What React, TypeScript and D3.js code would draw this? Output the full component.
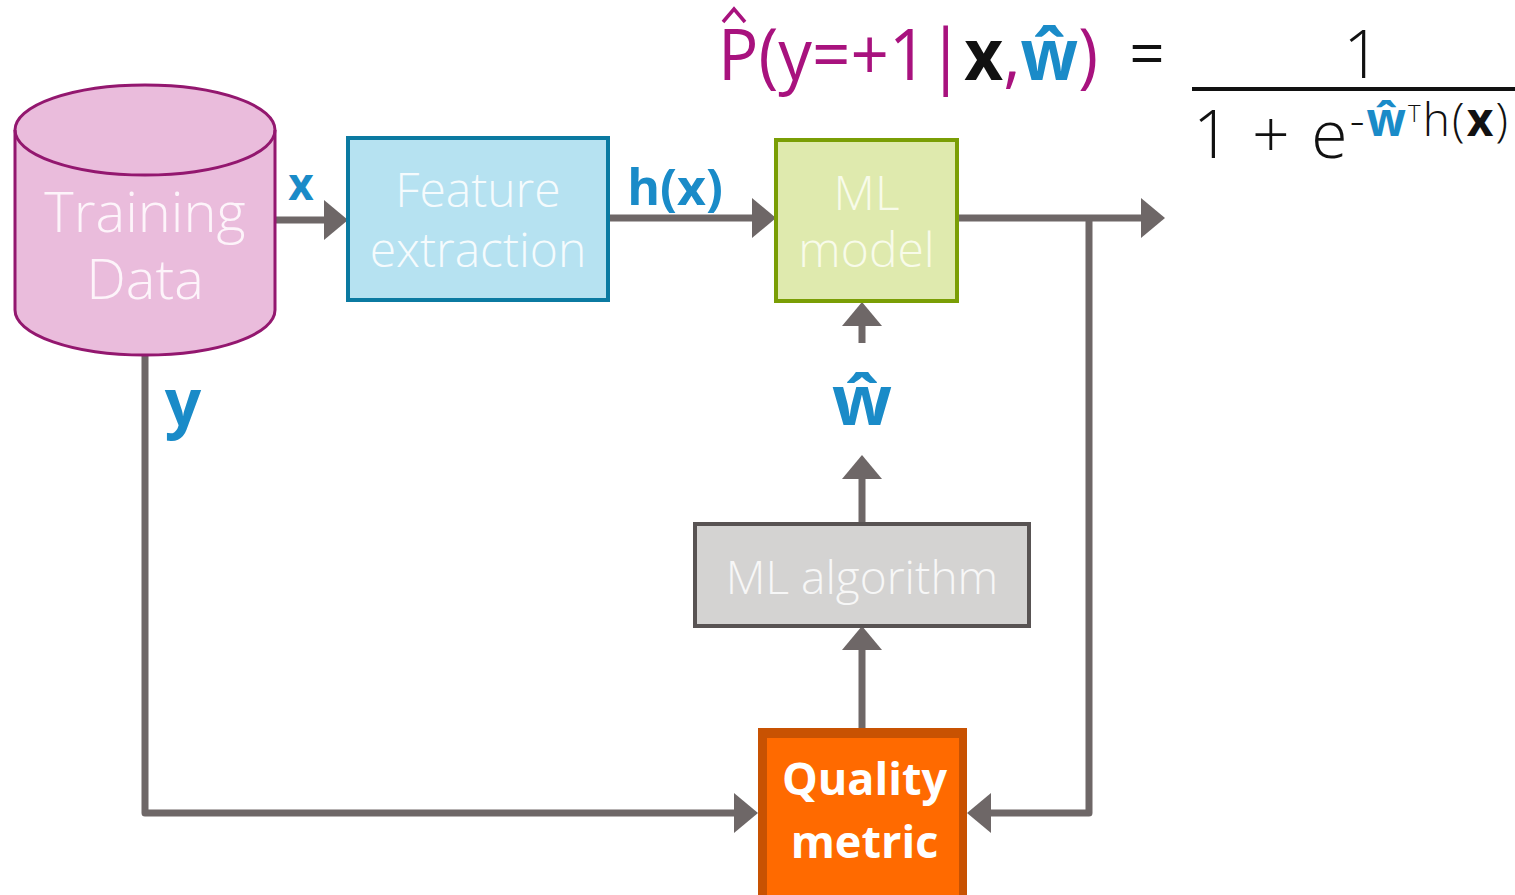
import React from 'react';
import * as d3 from 'd3';

// ---- content ----
const NODE_IDS = ['data', 'feature', 'model', 'algorithm', 'quality'];
const NODE_LABELS = [['Training', 'Data'], ['Feature', 'extraction'], ['ML', 'model'], ['ML algorithm'], ['Quality', 'metric']];
const EDGE_LABELS = ['x', 'h(x)', 'ŵ', 'y'];
const FORMULA_LHS = ['P', '(y=+1', '|', 'x', ',', 'ŵ', ')'];
const FORMULA_LHS_ROLE = ['m', 'm', 'm', 'k', 'm', 'b', 'm'];
const FORMULA_NUM = '1';
const FORMULA_DEN = ['1 + e', '-', 'ŵ', 'T', 'h(', 'x', ')'];

// ---- layout ----
const W = 1515;
const H = 895;
const BOX: Record<string, { x: number; y: number; w: number; h: number }> = {
  data: { x: 15, y: 85, w: 260, h: 270 },
  feature: { x: 348, y: 138, w: 260, h: 162 },
  model: { x: 776, y: 140, w: 181, h: 161 },
  algorithm: { x: 695, y: 524, w: 334, h: 102 },
  quality: { x: 758, y: 728, w: 209, h: 180 },
};

const GREY = '#6e6767';
const BLUE = '#1a8bc8';
const MAGENTA = '#a8127e';

type Pt = [number, number];
const EDGES: { pts: Pt[]; head: boolean }[] = [
  { pts: [[275, 220], [348, 220]], head: true },
  { pts: [[608, 218], [776, 218]], head: true },
  { pts: [[957, 218], [1165, 218]], head: true },
  { pts: [[1089, 218], [1089, 813], [967, 813]], head: true },
  { pts: [[145, 355], [145, 813], [758, 813]], head: true },
  { pts: [[862, 343], [862, 302]], head: true },
  { pts: [[862, 524], [862, 455]], head: true },
  { pts: [[862, 728], [862, 626]], head: true },
];

const line = d3.line<Pt>().x((d) => d[0]).y((d) => d[1]);

function arrowHead(from: Pt, tip: Pt, len = 24, half = 20) {
  const dx = tip[0] - from[0];
  const dy = tip[1] - from[1];
  const l = Math.hypot(dx, dy) || 1;
  const ux = dx / l, uy = dy / l;
  const bx = tip[0] - ux * len, by = tip[1] - uy * len;
  const px = -uy, py = ux;
  return `M${tip[0]},${tip[1]}L${bx + px * half},${by + py * half}L${bx - px * half},${by - py * half}Z`;
}

function shorten(pts: Pt[], len: number): Pt[] {
  const out = pts.slice();
  const tip = out[out.length - 1];
  const prev = out[out.length - 2];
  const dx = tip[0] - prev[0], dy = tip[1] - prev[1];
  const l = Math.hypot(dx, dy) || 1;
  out[out.length - 1] = [tip[0] - (dx / l) * (len - 2), tip[1] - (dy / l) * (len - 2)];
  return out;
}

const LIGHT = "'Open Sans', 'Lato', sans-serif";

export default function App() {
  const d = BOX.data;
  const cx = d.x + d.w / 2;
  const rx = d.w / 2;
  const ry = 45;
  const topY = d.y + ry;
  const botY = d.y + d.h - ry;
  const cyl = `M${d.x},${topY} A${rx},${ry} 0 0 1 ${d.x + d.w},${topY} L${d.x + d.w},${botY} A${rx},${ry} 0 0 1 ${d.x},${botY} Z`;
  const cylRim = `M${d.x},${topY} A${rx},${ry} 0 0 0 ${d.x + d.w},${topY}`;

  const f = BOX.feature, m = BOX.model, a = BOX.algorithm, q = BOX.quality;
  const roleColor = (r: string) => (r === 'm' ? MAGENTA : r === 'b' ? BLUE : '#111');

  return (
    <svg width={W} height={H} style={{ position: 'absolute', left: 0, top: 0, background: '#fff' }}>
      {EDGES.map((e, i) => {
        const pts = e.pts;
        const tip = pts[pts.length - 1];
        const prev = pts[pts.length - 2];
        return (
          <g key={i}>
            <path d={line(shorten(pts, 22)) || ''} fill="none" stroke={GREY} strokeWidth={7} strokeLinejoin="round" />
            {e.head && <path d={arrowHead(prev, tip, 24, 20)} fill={GREY} />}
          </g>
        );
      })}

      {/* cylinder */}
      <path d={cyl} fill="#eabcdc" stroke="#93176f" strokeWidth={3} />
      <path d={cylRim} fill="none" stroke="#93176f" strokeWidth={3} />
      <text x={cx} y={232} textAnchor="middle" fontFamily={LIGHT} fontWeight={300} fontSize={56} fill="#fdf4fa">{NODE_LABELS[0][0]}</text>
      <text x={cx} y={299} textAnchor="middle" fontFamily={LIGHT} fontWeight={300} fontSize={56} fill="#fdf4fa">{NODE_LABELS[0][1]}</text>

      {/* feature extraction */}
      <rect x={f.x} y={f.y} width={f.w} height={f.h} fill="#b6e2f1" stroke="#0b7aa1" strokeWidth={4} />
      <text x={f.x + f.w / 2} y={207} textAnchor="middle" fontFamily={LIGHT} fontWeight={300} fontSize={48} fill="#f5fbfd">{NODE_LABELS[1][0]}</text>
      <text x={f.x + f.w / 2} y={267} textAnchor="middle" fontFamily={LIGHT} fontWeight={300} fontSize={48} fill="#f5fbfd">{NODE_LABELS[1][1]}</text>

      {/* ML model */}
      <rect x={m.x} y={m.y} width={m.w} height={m.h} fill="#dfeaae" stroke="#7a9e05" strokeWidth={4} />
      <text x={m.x + m.w / 2} y={210} textAnchor="middle" fontFamily={LIGHT} fontWeight={300} fontSize={48} fill="#f8fbea">{NODE_LABELS[2][0]}</text>
      <text x={m.x + m.w / 2} y={267} textAnchor="middle" fontFamily={LIGHT} fontWeight={300} fontSize={48} fill="#f8fbea">{NODE_LABELS[2][1]}</text>

      {/* ML algorithm */}
      <rect x={a.x} y={a.y} width={a.w} height={a.h} fill="#d4d3d2" stroke="#585353" strokeWidth={4} />
      <text x={a.x + a.w / 2} y={594} textAnchor="middle" fontFamily={LIGHT} fontWeight={300} fontSize={46} fill="#f7f7f7">{NODE_LABELS[3][0]}</text>

      {/* Quality metric */}
      <rect x={q.x} y={q.y} width={q.w} height={q.h} fill="#c85202" />
      <rect x={q.x + 9} y={q.y + 10} width={q.w - 17} height={q.h} fill="#ff6a00" />
      <text x={q.x + q.w / 2 + 2} y={795} textAnchor="middle" fontFamily={LIGHT} fontWeight={700} fontSize={45} fill="#fff">{NODE_LABELS[4][0]}</text>
      <text x={q.x + q.w / 2 + 2} y={858} textAnchor="middle" fontFamily={LIGHT} fontWeight={700} fontSize={45} fill="#fff">{NODE_LABELS[4][1]}</text>

      {/* edge labels */}
      <text x={301} y={200} textAnchor="middle" fontFamily={LIGHT} fontWeight={700} fontSize={44} fill={BLUE}>{EDGE_LABELS[0]}</text>
      <text x={675} y={205} textAnchor="middle" fontFamily={LIGHT} fontWeight={700} fontSize={50} fill={BLUE}>{EDGE_LABELS[1]}</text>
      <text x={862} y={425} textAnchor="middle" fontFamily={LIGHT} fontWeight={700} fontSize={70} fill={BLUE}>{EDGE_LABELS[2]}</text>
      <text x={183} y={425} textAnchor="middle" fontFamily={LIGHT} fontWeight={700} fontSize={64} fill={BLUE}>{EDGE_LABELS[3]}</text>

      {/* formula */}
      <text x={718} y={80} fontFamily={LIGHT} fontWeight={500} fontSize={72} textLength={380} lengthAdjust="spacingAndGlyphs">
        {FORMULA_LHS.map((s, i) => (
          <tspan key={i} fill={roleColor(FORMULA_LHS_ROLE[i])} fontWeight={FORMULA_LHS_ROLE[i] === 'm' ? 500 : 700}>{s}</tspan>
        ))}
      </text>
      <path d="M723,22 L734,9 L745,22" fill="none" stroke={MAGENTA} strokeWidth={3.5} />
      <text x={1147} y={76} textAnchor="middle" fontFamily={LIGHT} fontWeight={400} fontSize={62} fill="#111">=</text>
      <text x={1362} y={78} textAnchor="middle" fontFamily={LIGHT} fontWeight={300} fontSize={66} fill="#111">{FORMULA_NUM}</text>
      <line x1={1192} x2={1515} y1={89} y2={89} stroke="#111" strokeWidth={4} />
      <text x={1193} y={158} fontFamily={LIGHT} fontWeight={300} fontSize={66} fill="#111" textLength={315} lengthAdjust="spacing">
        {FORMULA_DEN[0]}
        <tspan dy={-22} fontSize={46}>{FORMULA_DEN[1]}</tspan>
        <tspan fontSize={46} fontWeight={700} fill={BLUE}>{FORMULA_DEN[2]}</tspan>
        <tspan fontSize={24} dy={-14}>{FORMULA_DEN[3]}</tspan>
        <tspan fontSize={46} dy={14}>{FORMULA_DEN[4]}</tspan>
        <tspan fontSize={46} fontWeight={700}>{FORMULA_DEN[5]}</tspan>
        <tspan fontSize={46}>{FORMULA_DEN[6]}</tspan>
      </text>
    </svg>
  );
}
